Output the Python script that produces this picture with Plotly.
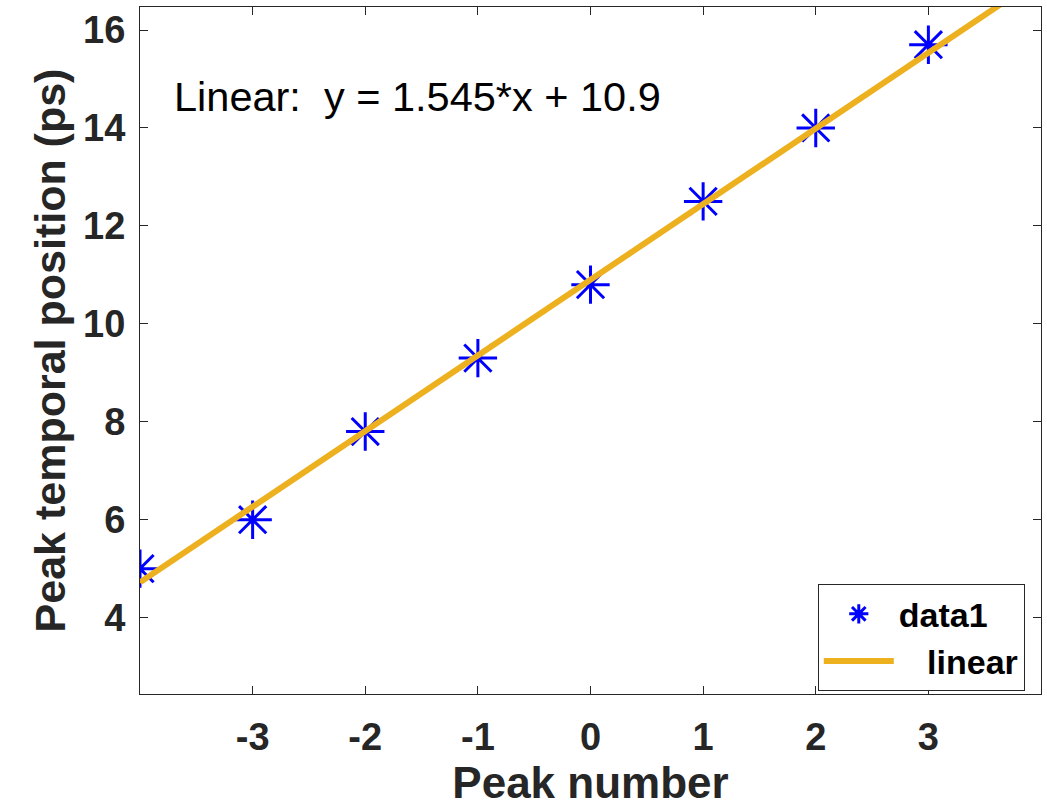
import plotly.graph_objects as go

peak_number = [-4, -3, -2, -1, 0, 1, 2, 3]
peak_position = [5.0, 6.0, 7.8, 9.3, 10.8, 12.5, 14.0, 15.7]
fit_x = [-4, 4]
fit_y = [4.72, 17.08]
x_ticks = [-3, -2, -1, 0, 1, 2, 3]
x_tick_text = ["-3", "-2", "-1", "0", "1", "2", "3"]
y_ticks = [4, 6, 8, 10, 12, 14, 16]

fig = go.Figure()
fig.add_trace(go.Scatter(
    x=peak_number, y=peak_position, mode="markers", name="data1",
    marker=dict(symbol="asterisk-open", size=32, color="#0000FF",
                line=dict(color="#0000FF", width=3)),
))
fig.add_trace(go.Scatter(
    x=fit_x, y=fit_y, mode="lines", name="   linear",
    line=dict(color="#EDB120", width=6),
))

font_family = "Liberation Sans, Arial, sans-serif"
axis_common = dict(
    showgrid=False, zeroline=False, showline=True, linecolor="#262626",
    linewidth=1, mirror="ticks", ticks="inside", ticklen=8, tickwidth=1,
    tickcolor="#262626",
    tickfont=dict(family=font_family, size=38, color="#262626", weight="bold"),
)
fig.update_layout(
    width=1047, height=807,
    margin=dict(l=140, r=6, t=7, b=113),
    plot_bgcolor="white", paper_bgcolor="white",
    xaxis=dict(range=[-4, 4], tickvals=x_ticks, ticktext=x_tick_text,
               ticklabelstandoff=9,
               title=dict(text="Peak number", standoff=4,
                          font=dict(family=font_family, size=44, color="#262626", weight="bold")),
               **axis_common),
    yaxis=dict(range=[2.44, 16.47], tickvals=y_ticks, ticklabelstandoff=6,
               title=dict(text="Peak temporal position (ps)", standoff=4,
                          font=dict(family=font_family, size=43, color="#262626", weight="bold")),
               **axis_common),
    legend=dict(x=0.982, y=0.004, xanchor="right", yanchor="bottom",
                bgcolor="white", bordercolor="#262626", borderwidth=1,
                font=dict(family=font_family, size=34, color="black", weight="bold"),
                itemwidth=70, tracegroupgap=0),
    showlegend=True,
)
fig.add_annotation(
    x=0.0355, y=0.869, xref="paper", yref="paper", xanchor="left", yanchor="middle",
    text="Linear:&nbsp;&nbsp;y = 1.545*x + 10.9", showarrow=False,
    font=dict(family=font_family, size=41.5, color="black"),
)
fig.write_html("out.html")
